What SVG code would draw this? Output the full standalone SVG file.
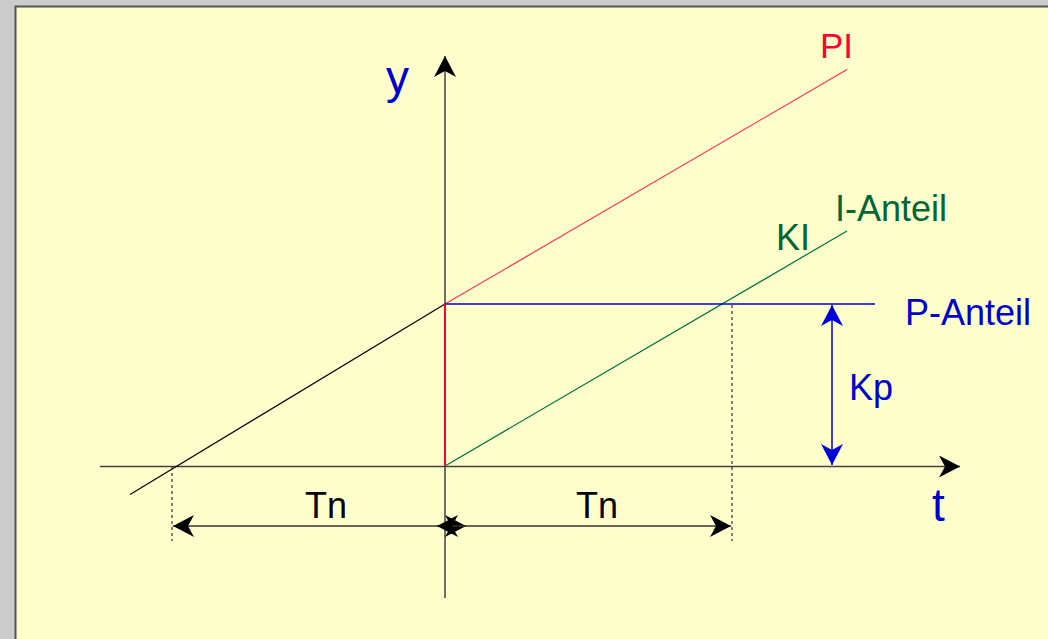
<svg xmlns="http://www.w3.org/2000/svg" width="1048" height="639" viewBox="0 0 1048 639">
<style>
.ax{stroke:#404040;stroke-width:1.5;fill:none}
.dot{stroke:#333;stroke-width:1.2;stroke-dasharray:3,3;fill:none}
.lbl{font-family:"Liberation Sans",Arial,sans-serif;font-size:36px}
.blue{fill:#0000cc}
.red{fill:#ff0033}
.green{fill:#006633}
</style>
<defs>
<marker id="ak" viewBox="0 0 22 22" refX="21" refY="11" markerWidth="22" markerHeight="22" markerUnits="userSpaceOnUse" orient="auto-start-reverse">
<path d="M21,11 L0,0 L6,11 L0,22 Z" fill="#000"/>
</marker>
<marker id="ab" viewBox="0 0 22 22" refX="21" refY="11" markerWidth="22" markerHeight="22" markerUnits="userSpaceOnUse" orient="auto-start-reverse">
<path d="M21,11 L0,0 L6,11 L0,22 Z" fill="#0000dd"/>
</marker>
</defs>
<rect x="0" y="0" width="1048" height="639" fill="#cccccc"/>
<rect x="15" y="6" width="1040" height="640" fill="#ffffcc"/>
<path d="M15.5,639 V6.5 H1048" stroke="#555" stroke-width="2" fill="none"/>
<g id="connectors">
<line class="ax" x1="445" y1="598" x2="445" y2="56" marker-end="url(#ak)"/>
<line class="ax" x1="100" y1="466.5" x2="960" y2="466.5" marker-end="url(#ak)"/>
<line x1="130" y1="494.5" x2="445" y2="304" stroke="#000" stroke-width="1.2"/>
<line x1="445" y1="304" x2="847" y2="69.5" stroke="#ff3355" stroke-width="1.2"/>
<line x1="445" y1="304" x2="445" y2="466" stroke="#ff0033" stroke-width="2"/>
<line x1="445" y1="466" x2="847" y2="231" stroke="#007040" stroke-width="1.2"/>
<line x1="445" y1="304" x2="875" y2="304" stroke="#0000dd" stroke-width="1.5"/>
<line class="dot" x1="732" y1="305" x2="732" y2="541"/>
<line class="dot" x1="172" y1="467" x2="172" y2="541"/>
<line x1="173" y1="526" x2="466" y2="526" stroke="#333" stroke-width="1.5" marker-start="url(#ak)" marker-end="url(#ak)"/>
<line x1="437" y1="526" x2="731" y2="526" stroke="#333" stroke-width="1.5" marker-start="url(#ak)" marker-end="url(#ak)"/>
<line x1="832" y1="305" x2="832" y2="465" stroke="#0000dd" stroke-width="1.5" marker-start="url(#ab)" marker-end="url(#ab)"/>
</g>
<g id="labels">
<text class="lbl blue" x="386" y="93" style="font-size:46px">y</text>
<text class="lbl blue" x="932" y="521" style="font-size:46px">t</text>
<text class="lbl red" x="820" y="58" style="font-size:35px">PI</text>
<text class="lbl green" x="835" y="221">I-Anteil</text>
<text class="lbl green" x="776" y="250">KI</text>
<text class="lbl blue" x="905" y="325">P-Anteil</text>
<text class="lbl blue" x="849" y="400">Kp</text>
<text class="lbl" x="326" y="518" text-anchor="middle">Tn</text>
<text class="lbl" x="597" y="518" text-anchor="middle">Tn</text>
</g>
</svg>
